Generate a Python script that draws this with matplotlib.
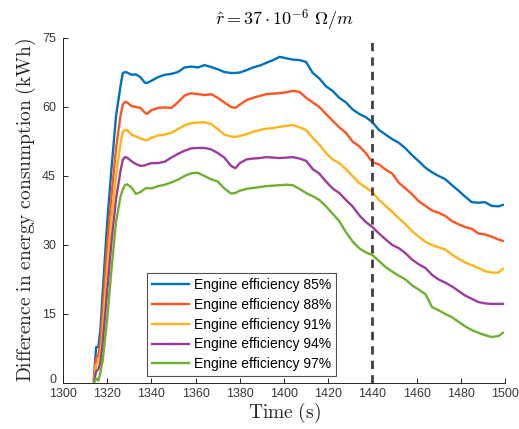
import matplotlib
matplotlib.use("Agg")
import matplotlib.pyplot as plt
from matplotlib.transforms import ScaledTranslation

plt.rcParams['mathtext.fontset'] = 'cm'
plt.rcParams['font.family'] = ['Liberation Sans', 'DejaVu Sans']

# time axis (s)
t = [1314, 1315, 1316, 1317, 1318, 1320, 1322, 1324, 1326, 1327, 1328, 1329,
     1331, 1333, 1335, 1337, 1338, 1340, 1343, 1346, 1349, 1352, 1355, 1358,
     1361, 1364, 1367, 1370, 1373, 1376, 1378, 1380, 1383, 1386, 1389, 1392,
     1395, 1398, 1401, 1404, 1407, 1410, 1413, 1416, 1419, 1422, 1425, 1428,
     1431, 1434, 1437, 1440, 1443, 1446, 1449, 1452, 1455, 1458, 1461, 1464,
     1467, 1470, 1473, 1476, 1479, 1482, 1485, 1488, 1491, 1494, 1497, 1499]

# energy difference (kWh) per engine efficiency
eff85 = [1.0, 7.8, 7.8, 12, 20, 35, 47, 58, 64.5, 67.3, 67.6, 67.5,
         67.0, 67.1, 66.5, 65.3, 65.2, 65.7, 66.5, 67.0, 67.2, 67.6, 68.6, 68.8,
         68.6, 69.1, 68.7, 68.2, 67.6, 67.4, 67.4, 67.5, 68.0, 68.6, 69.0, 69.6,
         70.2, 70.9, 70.6, 70.3, 70.2, 69.8, 67.4, 66.2, 64.5, 63.5, 62.0, 61.0,
         59.5, 58.5, 57.8, 56.7, 55.0, 54.0, 53.0, 52.2, 51.0, 49.5, 48.2, 46.8,
         45.8, 45.0, 44.3, 43.0, 41.8, 40.5, 39.3, 39.2, 39.3, 38.5, 38.4, 38.7]
eff88 = [0.8, 5.5, 6.0, 9, 16, 30, 41, 51, 58, 60.5, 61.1, 61.0,
         60.2, 60.0, 59.8, 58.8, 58.5, 59.3, 59.8, 59.9, 59.8, 61.0, 62.5, 63.0,
         62.8, 62.6, 62.8, 62.0, 61.0, 60.0, 59.8, 60.5, 61.5, 62.0, 62.4, 62.8,
         62.9, 63.0, 63.2, 63.5, 63.3, 62.0, 61.0, 60.0, 58.5, 57.0, 55.6, 54.4,
         52.5, 51.5, 50.0, 48.0, 47.5, 46.4, 45.5, 43.5, 42.3, 41.0, 39.5, 38.5,
         37.5, 37.0, 36.3, 35.2, 34.5, 33.9, 33.5, 32.5, 32.3, 31.8, 31.2, 30.9]
eff91 = [0.5, 4.0, 4.5, 6.5, 12, 25, 36, 45, 52, 54.5, 55.0, 55.0,
         54.0, 53.6, 53.2, 52.8, 52.8, 53.3, 53.8, 54.0, 54.4, 55.2, 56.0, 56.5,
         56.6, 56.7, 56.3, 55.2, 54.0, 53.6, 53.5, 53.7, 54.1, 54.6, 55.0, 55.3,
         55.4, 55.7, 55.9, 56.1, 55.6, 55.0, 53.3, 51.8, 50.0, 48.6, 47.8, 46.5,
         45.0, 43.5, 42.5, 41.5, 39.8, 38.5, 37.2, 35.8, 34.5, 33.0, 31.8, 30.7,
         30.0, 29.5, 29.0, 27.9, 27.0, 26.2, 25.6, 25.0, 24.3, 24.0, 24.0, 24.8]
eff94 = [0.3, 2.5, 3.0, 4.5, 9, 20, 31, 40, 46, 48.5, 49.1, 49.0,
         48.2, 47.6, 47.2, 47.3, 47.5, 47.8, 47.8, 48.1, 49.0, 49.8, 50.5, 51.0,
         51.1, 51.1, 50.8, 50.0, 49.0, 47.2, 46.7, 47.8, 48.6, 48.8, 48.9, 49.1,
         49.0, 48.9, 49.0, 49.1, 48.8, 48.3, 46.5, 45.5, 43.8, 42.3, 41.3, 39.8,
         38.4, 36.5, 35.0, 33.9, 32.5, 31.2, 30.0, 29.3, 28.2, 26.8, 25.8, 25.0,
         23.5, 22.5, 21.8, 21.0, 20.0, 19.0, 18.3, 17.6, 17.3, 17.2, 17.2, 17.2]
eff97 = [0.0, 1.0, 0.5, 2.5, 5, 14, 25, 35, 40.5, 42, 43.0, 43.2,
         42.5, 41.1, 41.5, 42.2, 42.4, 42.3, 42.8, 43.1, 43.6, 44.2, 45.0, 45.6,
         45.7, 45.0, 44.3, 43.8, 42.3, 41.2, 41.3, 41.8, 42.2, 42.4, 42.6, 42.8,
         42.9, 43.0, 43.1, 43.0, 42.2, 41.3, 40.6, 39.8, 38.4, 36.8, 35.2, 32.8,
         30.8, 29.3, 28.4, 27.8, 26.5, 25.2, 24.2, 23.3, 22.5, 21.2, 20.3, 19.3,
         16.5, 15.8, 15.0, 14.3, 13.3, 12.3, 11.5, 10.9, 10.4, 10.0, 10.2, 10.9]

series = [eff85, eff88, eff91, eff94, eff97]
labels = ['Engine efficiency 85%', 'Engine efficiency 88%', 'Engine efficiency 91%',
          'Engine efficiency 94%', 'Engine efficiency 97%']
colors = ['#0072BD', '#FF5420', '#FFB31A', '#9C3C9E', '#6CB130']
t_mark = 1440

fig = plt.figure(figsize=(5.19, 4.29), dpi=100)
ax = fig.add_axes([63 / 519, 1 - 383 / 429, 442 / 519, 345 / 429])

for y, lab, c in zip(series, labels, colors):
    ax.plot(t, y, color=c, lw=1.7, label=lab)

ax.axvline(t_mark, color='#404040', lw=2.0, ls=(0, (3, 2.2)))

ax.set_xlim(1300, 1500)
ax.set_ylim(0, 75)
ax.set_xticks(range(1300, 1501, 20))
ax.set_yticks(range(0, 76, 15))
ax.tick_params(direction='in', length=3.5, width=0.7, labelsize=9,
               colors='#262626', labelcolor='#383838')
ax.tick_params(axis='x', pad=3.5)
ax.tick_params(axis='y', pad=5)
for side in ['top', 'right']:
    ax.spines[side].set_visible(False)
for side in ['left', 'bottom']:
    ax.spines[side].set_color('#262626')
    ax.spines[side].set_linewidth(0.7)

# lift the "0" label a touch so it clears the first time label
zero_lbl = ax.yaxis.get_major_ticks()[0].label1
zero_lbl.set_transform(zero_lbl.get_transform() +
                       ScaledTranslation(0, 3 / 72, fig.dpi_scale_trans))

ax.set_xlabel(r'$\mathrm{Time\ (s)}$', fontsize=14, color='#262626', labelpad=1)
ax.set_ylabel(r'$\mathrm{Difference\ in\ energy\ consumption\ (kWh)}$',
              fontsize=14, color='#262626', labelpad=3)
ax.set_title(r'$\hat{r} = 37 \cdot 10^{-6}\ \Omega/m$', fontsize=13, pad=9)

leg = ax.legend(loc='lower left', bbox_to_anchor=(0.19, 0.02), borderaxespad=0,
                fontsize=10, frameon=True, fancybox=False, edgecolor='#262626',
                handlelength=2.7, handletextpad=0.35, labelspacing=0.42,
                borderpad=0.35)
leg.get_frame().set_linewidth(0.8)

fig.savefig('out.png', dpi=100)
